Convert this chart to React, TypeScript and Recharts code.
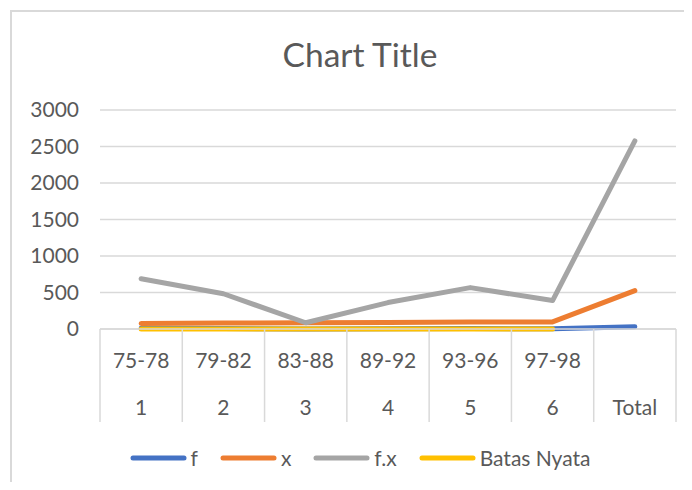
import React from 'react';
import { LineChart, Line, XAxis, YAxis, CartesianGrid, Legend } from 'recharts';

const categories = ['1', '2', '3', '4', '5', '6', 'Total'];
const ranges = ['75-78', '79-82', '83-88', '89-92', '93-96', '97-98', ''];
const fValues = [9, 6, 1, 4, 6, 4, 30];
const xValues = [76.5, 80.5, 85.5, 90.5, 94.5, 97.5, 525];
const fxValues = [688.5, 483, 85.5, 362, 567, 390, 2576];
const batasValues: (number | null)[] = [0, 0, 0, 0, 0, 0, null];
const yTicks = [0, 500, 1000, 1500, 2000, 2500, 3000];

const seriesKeys = ['f', 'x', 'fx', 'batas'];
const seriesNames = ['f', 'x', 'f.x', 'Batas Nyata'];
const seriesColors = ['#4472C4', '#ED7D31', '#A5A5A5', '#FFC000'];

const data = categories.map((c, i) => ({
  cat: c,
  range: ranges[i],
  f: fValues[i],
  x: xValues[i],
  fx: fxValues[i],
  batas: batasValues[i],
}));

const W = 684;
const H = 482;
const PLOT_LEFT = 92;
const PLOT_RIGHT = 668;
const HALF = (PLOT_RIGHT - PLOT_LEFT) / categories.length / 2;
const TEXT = '#595959';
const GRID = '#D9D9D9';
const FONT = 'Lato, "Open Sans", sans-serif';

const CatTick = (props: any) => {
  const { x, y, payload } = props;
  const idx = payload.index;
  return (
    <g>
      <line x1={x - HALF} y1={y} x2={x - HALF} y2={y + 93} stroke={GRID} strokeWidth={1.5} />
      {idx === categories.length - 1 && (
        <line x1={x + HALF} y1={y} x2={x + HALF} y2={y + 93} stroke={GRID} strokeWidth={1.5} />
      )}
      <text x={x} y={y + 31.5} dy="0.355em" textAnchor="middle" fill={TEXT} fontSize={21} fontFamily={FONT}>
        {ranges[idx]}
      </text>
      <text x={x} y={y + 79} dy="0.355em" textAnchor="middle" fill={TEXT} fontSize={21} fontFamily={FONT}>
        {payload.value}
      </text>
    </g>
  );
};

const LegendContent = () => (
  <div
    style={{
      display: 'flex',
      justifyContent: 'center',
      alignItems: 'center',
      height: 20,
      fontFamily: FONT,
      fontSize: 21,
      color: TEXT,
    }}
  >
    {seriesNames.map((n, i) => (
      <div key={n} style={{ display: 'flex', alignItems: 'center', marginLeft: i === 0 ? 0 : 22 }}>
        <svg width={57} height={8} style={{ display: 'block' }}>
          <line x1={3} y1={4} x2={54} y2={4} stroke={seriesColors[i]} strokeWidth={5} strokeLinecap="round" />
        </svg>
        <span style={{ marginLeft: 4, lineHeight: '20px' }}>{n}</span>
      </div>
    ))}
  </div>
);

export default function App() {
  return (
    <div style={{ position: 'relative', width: W, height: H, overflow: 'hidden', marginBottom: -8, background: '#fff' }}>
      <div
        style={{
          position: 'absolute',
          left: 2,
          top: 2,
          right: -10,
          bottom: -10,
          borderLeft: `2px solid ${GRID}`,
          borderTop: `2px solid ${GRID}`,
        }}
      />
      <div
        style={{
          position: 'absolute',
          left: 0,
          top: 30,
          width: 704,
          textAlign: 'center',
          fontFamily: FONT,
          fontSize: 33.5,
          lineHeight: '33px',
          color: TEXT,
        }}
      >
        Chart Title
      </div>
      <div style={{ position: 'absolute', left: 0, top: 0 }}>
        <LineChart width={W} height={H} data={data} margin={{ top: 102, right: W - PLOT_RIGHT, bottom: 61, left: 0 }}>
          <CartesianGrid horizontal vertical={false} stroke={GRID} strokeWidth={1.5} />
          <XAxis
            dataKey="cat"
            interval={0}
            height={100}
            padding={{ left: HALF, right: HALF }}
            axisLine={{ stroke: GRID, strokeWidth: 1.5 }}
            tickLine={false}
            tickSize={0}
            tickMargin={0}
            tick={<CatTick />}
          />
          <YAxis
            width={PLOT_LEFT}
            domain={[0, 3000]}
            ticks={yTicks}
            interval={0}
            axisLine={false}
            tickLine={false}
            tickSize={0}
            tickMargin={21}
            tick={{ fill: TEXT, fontSize: 21, fontFamily: FONT }}
          />
          <Legend
            layout="horizontal"
            verticalAlign="middle"
            align="center"
            content={<LegendContent />}
            wrapperStyle={{ left: 0, top: 440, width: 704 }}
          />
          {seriesKeys.map((k, i) => (
            <Line
              key={k}
              type="linear"
              dataKey={k}
              name={seriesNames[i]}
              stroke={seriesColors[i]}
              strokeWidth={5}
              strokeLinecap="round"
              strokeLinejoin="round"
              dot={false}
              activeDot={false}
              isAnimationActive={false}
            />
          ))}
        </LineChart>
      </div>
    </div>
  );
}
